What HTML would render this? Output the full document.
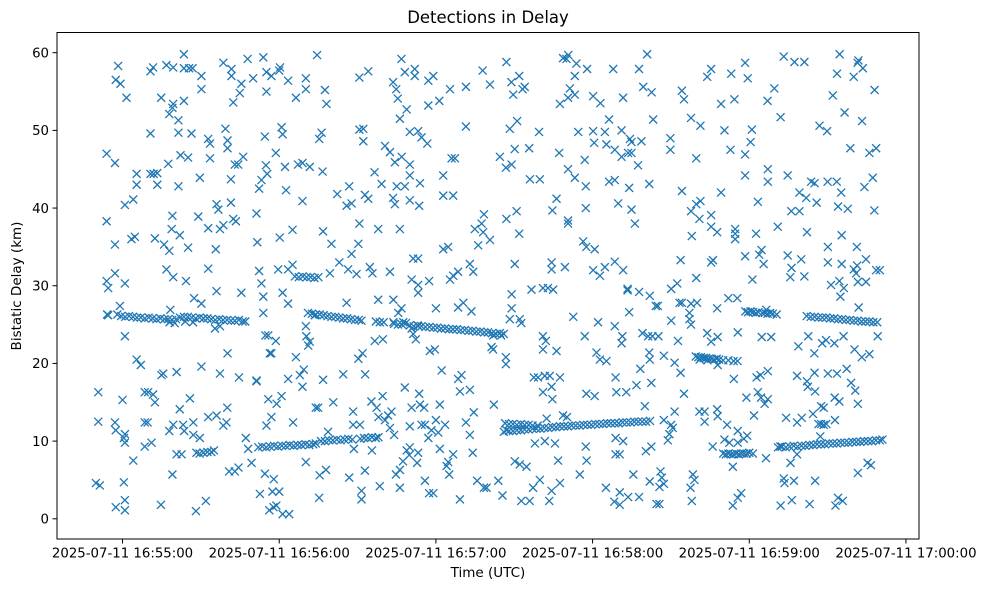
<!DOCTYPE html>
<html><head><meta charset="utf-8"><style>
html,body{margin:0;padding:0;background:#fff;}
svg{display:block;font-family:"DejaVu Sans","Liberation Sans",sans-serif;}
</style></head><body>
<svg id="chart" width="988" height="590" viewBox="0 0 988 590" xmlns="http://www.w3.org/2000/svg">
<rect x="0" y="0" width="988" height="590" fill="#fff"/>
<text x="488" y="23" text-anchor="middle" font-size="16.5" fill="#000">Detections in Delay</text>
<text x="488" y="577" text-anchor="middle" font-size="13.5" fill="#000">Time (UTC)</text>
<text transform="translate(21,286) rotate(-90)" text-anchor="middle" font-size="13.5" fill="#000">Bistatic Delay (km)</text>
<g id="marks"></g>
<g id="axes"></g>
</svg>
<script>
// time in seconds after 16:55:00 UTC, delay in km
const xTickValues = [0, 60, 120, 180, 240, 300];
const xTickLabels = ["2025-07-11 16:55:00","2025-07-11 16:56:00","2025-07-11 16:57:00","2025-07-11 16:58:00","2025-07-11 16:59:00","2025-07-11 17:00:00"];
const yTickValues = [0, 10, 20, 30, 40, 50, 60];
const xDomain = [-25.1, 305.0];
const yDomain = [-2.6, 62.6];

const trackPoints = [
[-2,26.3],[-0.5,26.1],[1,26.0],[2.5,26.1],[4,26.0],[5.5,25.9],[7,25.9],[8.5,25.8],[10,25.9],[11.5,25.8],[13,25.7],[14.5,25.8],[16,25.7],[17.5,25.7],[19,25.6],[20.5,25.7],[22,25.9],[23.5,26.0],[25,26.0],[26.5,25.9],[28,25.8],[29.5,25.9],[31,25.8],[32.5,25.8],[34,25.7],[35.5,25.6],[37,25.7],[38.5,25.6],[40,25.6],[41.5,25.5],[43,25.5],[44.5,25.6],[46,25.4],[47,25.4],[18,25.3],[20,25.2],[24,25.4],[27,25.3],
[52,9.2],[53.5,9.3],[55,9.2],[56.5,9.3],[58,9.4],[59.5,9.3],[61,9.4],[62.5,9.4],[64,9.5],[65.5,9.4],[67,9.5],[68.5,9.5],[70,9.6],[71.5,9.5],[73,9.6],[74,9.7],
[76,10.0],[77.5,10.0],[79,10.1],[80.5,10.1],[82,10.2],[83.5,10.1],[85,10.2],[86.5,10.3],[88,10.2],[91,10.3],[92.5,10.4],[94,10.4],[95.5,10.5],[97,10.4],[98,10.5],
[71,26.5],[72.5,26.4],[74,26.3],[75.5,26.3],[77,26.2],[78.5,26.1],[80,26.0],[81.5,26.0],[83,25.9],[84.5,25.8],[86,25.8],[87.5,25.7],[89,25.6],[90.5,25.6],[91.5,25.5],[97,25.4],[98.5,25.3],[100,25.3],
[104,25.1],[105.5,25.0],[107,25.0],[108.5,25.2],[110,24.9],[111.5,24.8],[113,24.9],[114.5,24.8],[116,24.7],[117.5,24.7],[119,24.6],[120.5,24.6],[122,24.5],[123.5,24.5],[125,24.4],[126.5,24.4],[128,24.4],[129.5,24.3],[131,24.3],[132.5,24.2],[134,24.2],[135.5,24.1],[137,24.1],[138.5,24.0],[140,24.0],[141.5,23.9],[143,23.8],[144.5,23.9],[146,23.8],[142,23.6],[145,23.6],
[146,11.2],[147,11.4],[148,11.3],[149.5,11.3],[151,11.4],[152.5,11.4],[154,11.5],[155.5,11.5],[157,11.6],[158.5,11.6],[160,11.6],[161.5,11.7],[163,11.7],[164.5,11.8],[166,11.8],[167.5,11.9],[169,11.9],[170.5,11.9],[172,12.0],[173.5,12.0],[175,12.0],[176.5,12.1],[178,12.1],[179.5,12.1],[181,12.2],[182.5,12.2],[184,12.2],[185.5,12.3],[187,12.3],[188.5,12.3],[190,12.3],[191.5,12.4],[193,12.4],[194.5,12.4],[196,12.5],[197.5,12.5],[199,12.5],[200.5,12.5],[202,12.6],[146.5,12.3],[148,12.2],[149.5,12.2],[151,12.1],[152.5,12.2],[154,12.1],[155.5,12.1],[157,12.0],[159,12.0],
[219.5,20.9],[220.5,20.8],[221.5,20.8],[222.5,20.7],[223.5,20.7],[224.5,20.6],[225.5,20.6],[226.5,20.5],[227.5,20.6],[228.5,20.5],[230,20.4],[232,20.4],[234,20.3],[235.5,20.3],[221,20.5],[224,20.4],
[230,8.4],[231,8.3],[232,8.4],[233,8.3],[234,8.3],[235,8.4],[236,8.3],[237,8.4],[238,8.4],[239,8.4],[240,8.5],[241.4,8.4],
[238.5,26.7],[239.5,26.6],[240.5,26.7],[241.5,26.6],[242.5,26.5],[243.5,26.6],[245,26.5],[246,26.5],[247,26.4],[248,26.5],[249,26.4],[250.5,26.3],[246.5,26.9],
[251,9.2],[252.5,9.3],[254,9.2],[255.5,9.3],[257,9.4],[258.5,9.3],[260,9.4],[261.5,9.4],[263,9.5],[264.5,9.5],[266,9.6],[267.5,9.6],[269,9.6],[270.5,9.7],[272,9.7],[273.5,9.7],[275,9.8],[276.5,9.8],[278,9.8],[279.5,9.9],[281,9.9],[282.5,9.9],[284,10.0],[285.5,10.0],[287,10.0],[288.5,10.1],[290,10.1],[291,10.2],
[262,26.1],[263.5,26.0],[265,26.0],[266.5,25.9],[268,25.9],[269.5,25.9],[271,25.8],[272.5,25.8],[274,25.7],[275.5,25.7],[277,25.6],[278.5,25.6],[280,25.5],[281.5,25.5],[283,25.4],[284.5,25.4],[286,25.4],[287.5,25.3],[289,25.3],
[66,31.2],[67.5,31.1],[69,31.2],[70.5,31.1],[72,31.1],[73.5,31.0],[75,31.1],
[28.3,8.5],[29.5,8.4],[31,8.5],[32.5,8.6],[34,8.6],[35,8.8],
[266.5,12.2],[267.5,12.2],[268.5,12.1],[269.5,12.2]
];

const scatterPoints = [
[-9.3,16.3],[-9.3,12.5],[-10.2,4.6],[-8.7,4.3],[-6.1,47.0],[-2.9,45.8],[-6.1,38.3],[-2.9,35.3],[-6.1,30.6],[-5.5,29.7],[-2.9,31.6],[-5.9,26.3],[-5.5,26.2],
[-2.6,56.5],[-1.7,58.3],[-0.8,56.0],[1.5,54.2],[0.9,40.4],[4.1,41.1],[5.4,43.0],[5.4,44.4],[0.9,30.3],[-1,27.4],[0.9,23.5],
[-2.9,12.4],[-2.6,11.4],[0,15.3],[0.9,10.9],[0.9,9.8],[0.5,10.4],[4.1,7.5],[0.5,4.7],[-2.6,1.5],[0.9,2.4],[0.9,1.1],[3.4,36.0],[4.7,36.3],[5.4,20.5],[7.0,19.8],
[8.5,16.3],[9.8,16.3],[11.7,16.0],[12.4,15.0],[8.5,12.4],[9.6,12.4],[8.5,9.3],[11.1,9.8],[10.7,49.6],[10.7,44.4],[11.9,44.4],[13.3,44.5],[13.3,43.0],
[10.7,57.6],[11.7,58.1],[14.8,54.2],[16.8,58.4],[19.4,58.1],[12.4,36.1],[15.9,35.3],[17.9,34.5],[17.5,45.7],[17.9,52.1],[19.1,52.9],[19.4,53.4],[21.4,51.3],[21.4,49.7],
[21.4,42.8],[19.1,39.0],[18.8,37.3],[21.9,36.5],[16.8,32.1],[19.4,31.1],[18.3,26.9],[14.9,18.5],[15.6,18.7],[20.7,18.9],[17.9,11.3],[19.4,12.1],[21.9,14.1],[19.1,5.7],[20.7,8.3],[22.6,8.3],[14.7,1.8],
[23.5,59.8],[23.5,58.0],[23.5,53.8],[25.5,58.0],[26.8,58.0],[30.2,57.0],[30.2,55.3],[22.2,46.8],[25.1,46.5],[26.4,49.6],[25.1,34.9],[24.3,30.6],[29.0,38.9],[32.8,37.4],[29.6,43.9],
[27.4,28.4],[30.2,27.7],[23.2,12.1],[23.6,11.3],[25.8,15.5],[27.1,12.4],[27.1,10.8],[29.6,10.4],[28.1,1.0],[31.9,2.3],[32.8,48.9],[33.5,48.3],[33.5,46.4],[32.8,32.2],[30.2,19.6],[32.8,13.1],
[35.7,34.7],[36.0,40.5],[36.7,39.8],[37.3,37.3],[38.6,37.8],[36,29.3],[35.4,24.5],[37.3,24.8],[40.2,21.3],[37.3,18.7],[36.0,13.3],[38.6,12.0],[39.8,12.4],[40.1,14.3],[40.8,6.1],[43.0,6.1],[44.4,6.6],
[38.6,58.7],[41.7,57.9],[41.7,57.0],[42.4,53.6],[44.9,54.8],[45.5,56.0],[47.9,59.2],[50.0,56.7],[39.4,50.2],[40.2,48.7],[40.2,47.7],[43.0,45.6],[44.3,45.6],[46.2,46.6],[41.5,43.7],[41.5,40.7],[42.4,38.6],[43.4,38.3],
[45.5,29.1],[44.6,18.2],[47.2,10.4],[48.1,9.0],[49.4,7.2],[51.3,17.7],
[53.9,59.4],[55.1,57.5],[57.0,57.0],[55.1,55.0],[60,57.7],[60.3,58.1],[63.4,56.4],[66.4,54.2],[70.2,56.7],[70.2,55.3],[74.5,59.7],[77.5,55.2],[78.1,53.4],
[54.5,49.2],[54.9,45.5],[55.4,44.4],[53.2,43.6],[52.3,42.5],[51.3,39.3],[51.6,35.6],[58.7,47.1],[60.9,50.4],[61.3,49.5],[62.2,45.3],[62.6,42.3],
[60.2,36.2],[65.1,37.2],[68.9,40.9],[67.2,45.6],[68.9,45.8],[71.7,45.3],[75.3,48.9],[76.2,49.7],[76.6,44.7],[76.8,37.0],
[52.3,31.9],[53.2,30.3],[53.9,28.6],[53.9,26.5],[59.6,32.1],[61.3,29.1],[63.4,27.7],[63.4,32.1],[65.1,32.7],
[54.7,23.6],[55.8,23.6],[56.4,21.3],[57.0,21.3],[58.7,22.9],[66.4,20.8],[67.9,18.5],[68.9,17.0],[69.4,19.2],[70.4,23.5],[71.1,22.3],[71.7,22.8],[70.2,24.8],[73.6,26.2],[76.8,17.9],
[51.3,17.8],[55.8,15.4],[59.0,14.8],[60.9,15.8],[55.1,12.0],[57.0,13.1],[63.4,18.0],[65.3,12.4],[74,14.3],[70.2,7.3],
[54.5,5.8],[57.9,5.1],[52.6,3.2],[56.2,1.1],[57.8,1.5],[57.4,3.5],[60,3.5],[61.3,0.6],[63.8,0.6],[58.9,1.7],[75.3,2.7],[75.5,5.6],[77.9,6.3],[74.9,14.3],[78.7,11.2],
[90.7,56.8],[94.1,57.6],[90.7,50.1],[92.2,50.2],[92.2,48.6],[82.2,41.8],[86.8,42.8],[85.8,40.3],[87.7,40.6],[92.8,41.7],[94.1,41.2],[90.7,38.0],[97.9,37.3],
[80.0,35.4],[90.3,35.4],[87.7,34.1],[83,33.0],[86.4,32.1],[89.6,31.5],[79.4,31.6],[94.7,32.4],[95.7,31.6],[85.8,27.8],
[84.5,18.6],[92.9,18.6],[90.3,20.6],[91.9,21.3],[80.7,15.0],[88.3,13.8],[88.3,12.1],[90.9,12.1],[88.6,9.0],[95.5,8.8],[86.8,5.3],[92.8,6.2],[91.5,3.6],[91.5,2.5],[98.5,4.2],
[95.3,15.1],[97.3,14.3],[99.6,15.8],[98.0,13.1],[100.5,12.7],[101.7,13.3],[103.0,13.8],[102.4,11.7],[104,10.8],
[108.1,16.9],[110.7,14.3],[110.0,11.9],[113.6,16.1],[113.9,14.7],[114.5,12.1],[115.8,12.1],[115.5,14.3],[117.1,10.4],[118.3,11.4],[120,12.7],[121.5,14.7],[120.9,11.1],
[108.8,8.8],[110,9.2],[109.8,8.2],[107.4,7.4],[106.2,6.3],[104.7,5.7],[106.2,4.0],[113.2,8.5],[112.8,7.2],[115.8,4.9],[117.4,3.3],[119,3.3],
[121.5,9.0],[124.1,6.8],[124.7,7.3],[125.1,5.7],[126.6,8.3],[129.2,2.5],[123.5,12.1],[128.5,18.0],[129.8,18.5],[129.2,16.4],[133,16.6],[131.5,12.4],[134.5,13.7],[133,10.8],[134.1,8.5],
[135.8,4.9],[138.4,4.0],[139.4,4.0],[143.9,4.9],[145.5,3.0],[142.2,14.7],[122.2,19.1],[117.7,21.6],[119.6,21.8],
[97.9,28.2],[103.7,28.2],[106.8,27.1],[105.6,26.5],[103.7,25.3],[107.5,25.3],[110.7,24.5],[112.3,23.1],[111.3,23.8],[113.2,24.8],[120.0,27.1],[117.4,30.6],[96.6,22.9],[99.7,23.1],
[128.5,27.2],[130.5,27.8],[133.6,26.7],[141.3,22.1],[141.9,21.8],[146.8,20.8],[146.8,19.9],[149,28.9],[149,27.1],[148.3,25.7],[152.1,25.7],[152.7,25.2],
[96.5,44.6],[99.2,43.1],[100.5,48.0],[102.4,47.2],[104.3,45.9],[106.9,46.6],[110.0,45.6],[110.0,44.2],[105,42.8],[108.1,42.8],[113.9,43.2],[103.6,41.3],[104.3,40.5],[110,41.0],[113.6,40.3],[106.2,37.3],
[103.6,56.2],[104.8,55.3],[105.4,54.1],[106.8,59.2],[108.1,57.5],[111.9,57.9],[111.9,57.0],[108.8,52.7],[106.2,51.5],[110.0,49.8],[113.2,49.9],[114.5,49.1],[116.7,48.3],[117.1,56.4],[119.0,57.0],[117.1,53.2],[121.3,53.8],
[122.8,44.2],[122.8,41.6],[126.6,41.6],[126.0,46.4],[127.3,46.4],[125.4,55.3],[131.5,55.6],[131.5,50.5],
[134.9,37.3],[137.5,38.0],[138.1,36.9],[140.7,35.9],[136.2,35.2],[138.4,39.2],[122.8,34.7],[124.7,35.0],[111.3,33.5],[113.2,33.5],[110.7,30.8],[113.2,30.1],[113.2,29.1],[102.4,31.8],
[125.4,30.8],[126.6,31.3],[128.5,31.8],[133,32.8],[134.3,31.8],
[137.9,57.7],[140.7,55.9],[147,58.8],[148.9,56.2],[149.6,54.6],[151.9,57.0],[153.2,55.3],[154,55.6],
[144.5,46.6],[146.8,45.2],[149,45.6],[150.2,47.6],[148.3,50.2],[151.1,51.2],[155.7,47.7],[159.5,49.8],[147,38.6],[150.9,39.6],[151.9,36.7],
[150.2,32.8],[156.6,29.5],[161,29.7],[162.9,29.7],[164.9,29.5],[164.3,33.0],[164.3,32.1],[169.4,32.4],
[156.0,43.7],[159.8,43.7],[164.6,39.7],[166.2,41.2],[167.5,53.4],[170.6,54.2],[167.2,47.1],[170.6,38],[170.6,38.4],
[168.7,59.3],[170.7,59.7],[170,59.2],[173.8,58.6],[173.2,57.0],[171.3,55.4],[173.2,54.6],[177.9,57.9],
[170.6,45.0],[173.2,43.9],[174.5,49.8],[177.0,46.2],[177.4,42.8],[177.4,40.0],
[180.2,54.4],[183.0,53.5],[180.2,49.9],[180.6,48.4],[184.7,49.8],[186.3,51.4],[185.3,48.2],[187.9,57.9],[191.7,54.2],[188.5,47.5],[191.1,46.6],[191.1,50.0],[194.3,48.9],[194.9,48.5],[194.9,47.1],[193.6,47.1],[198.7,48.6],[197.4,45.5],[197.8,57.9],[199.4,55.6],[202.6,54.9],[203.2,51.4],[200.9,59.8],
[186.3,43.4],[188.5,43.6],[189.8,40.6],[194,42.6],[194.9,39.8],[196.2,38.0],[201.7,43.1],
[176.4,35.7],[177.6,35.0],[180.8,34.7],[180.2,32.0],[182.8,31.3],[184.7,32.4],[188.5,33.1],[191.7,32.0],
[193.4,29.4],[193.4,29.6],[197.8,29.2],[201.9,28.7],[204.2,27.4],
[172.6,26.0],[182.1,25.3],[188.5,24.8],[191.4,23.5],[191.1,22.6],[194.0,26.6],[199.1,23.9],[201.3,23.5],[202.9,23.5],
[161,23.5],[161,21.8],[166.2,21.6],[162.1,22.9],[177,23.5],
[181.5,21.4],[182.8,20.5],[185.3,20.3],[201.7,21.4],[201.9,20.5],[198.3,19.3],[202.5,17.5],
[157.5,18.2],[159.1,18.2],[161.7,18.4],[163.6,18.4],[167.5,18.2],[161.0,16.3],[164.3,17.0],[164.6,15.4],[177.6,16.1],[180.8,15.8],[188.8,18.2],[189.1,16.3],[192.9,16.3],[196.8,17.2],
[168.7,13.3],[170.2,13.1],[162.4,12.9],[200,14.5],
[157.9,9.7],[161.7,10.0],[165.6,9.7],[177.4,9.3],[188.8,10.4],[191.7,10.0],[188.8,8.3],[190.4,8.3],[200.4,8.7],[202.5,9.3],
[150.2,7.4],[152.1,7.0],[154.7,6.7],[166.8,7.5],[175.1,5.7],[177.7,7.5],[195.6,5.7],[201.9,4.8],
[152.7,2.3],[155.9,2.3],[157.2,4.0],[159.8,5.0],[163.4,2.3],[164.3,3.6],[167.5,4.6],[185.1,4.0],[188.3,2.2],[190.4,3.4],[190.4,1.8],[193.6,2.8],[197.8,2.8],[204.5,1.9],
[214.2,55.1],[215,54.0],[217.7,51.6],[221.3,50.6],[223.9,56.9],[225.4,57.9],[229.2,53.4],[233.1,57.3],[234.3,54.0],[238.4,58.7],[239.4,56.7],[249.6,55.4],[247,53.8],[253.2,59.5],[257.3,58.8],[261.1,58.8],[252.0,51.7],[272.0,54.5],[273.6,57.3],[274.6,59.8],[276.5,52.3],[280.0,56.9],[281.5,58.7],[281.8,59.0],[283.5,58.0],[288.0,55.2],[283.2,51.2],
[209.8,49.0],[209.8,47.5],[219.7,46.4],[230.5,50.0],[232.8,47.5],[238.4,46.9],[240.5,48.5],[241.0,50.1],[266.9,50.6],[269.8,49.9],[278.7,47.7],[286.0,47.1],[288.6,47.7],
[214.2,42.2],[229.2,42.0],[238.4,44.2],[247.1,45.0],[247.1,43.4],[254.7,44.2],[259.2,42.0],[263.7,43.4],[265.0,43.2],[261.8,41.3],[265.8,40.7],[270,43.4],[273.5,43.4],[275.2,42.0],[274.0,40.2],[277.7,39.9],[284.1,42.7],[287.3,43.9],[287.9,39.7],
[217.7,39.6],[219.7,40.5],[221.3,40.9],[220.9,38.6],[225.4,39.1],[225.4,37.6],[227.7,36.9],[218.0,36.4],[234.6,37.3],[234.6,36.7],[234.6,36.0],[242.6,36.7],[243.3,40.8],[250.9,37.6],[256.1,39.6],[259.2,39.6],[262.1,36.9],[275.4,36.5],[270.1,35.0],[281.2,35.0],
[213.7,33.3],[225.4,33.0],[226.1,33.3],[238.4,33.8],[243.8,34.0],[244.7,34.6],[245.5,32.8],[254.7,33.9],[259.9,33.4],[256.2,32.3],[255.7,31.1],[261.1,31.2],[270.1,33.0],[275.4,32.8],[280,32.1],[281.3,32.6],[284.7,33.4],[288.6,32.0],[290,32.0],[271.3,30.1],[274.5,30.6],[276.2,29.7],[274.9,28.6],[280.9,31.6],[284.7,30.5],[281.6,30.5],[219.7,31.0],[241.2,30.8],[210.1,29.6],[212.4,30.3],
[213.3,27.8],[214.2,27.8],[217.7,27.7],[220,27.8],[232.0,28.4],[235.4,28.4],[227.7,27.1],[217.1,26.5],[217.1,25.7],[217.7,25.0],[210.1,25.5],[205,27.4],[205.2,23.5],[212.7,22.9],[223.9,23.9],[225.4,22.8],[227.9,23.4],[235.6,24.0],[244.8,23.4],[248.4,23.4],[281.9,27.2],[258.8,22.2],[262.6,23.5],[264.9,21.3],[267.9,22.6],[269.4,23.0],[272.6,22.6],[276.1,23.5],[280.3,21.8],[283.1,20.8],[286.0,21.2],[289.2,23.5],
[207.3,21.0],[211.4,20.1],[213.7,18.8],[227.9,19.8],[234.1,18.0],[238.9,15.6],[242.8,18.2],[244.3,18.5],[247.1,19.0],[243.3,16.3],[244.5,15.6],[245.9,14.8],[247.1,15.4],[258.3,18.4],[262.1,17.7],[262.4,17.0],[265.0,18.8],[265.2,16.4],[270.1,18.7],[273.6,18.7],[277.3,19.3],[279.0,17.5],[280.6,16.5],[281.6,14.8],[272.7,15.6],[274.5,15.1],[215,16.1],
[211.4,13.8],[210.1,12.1],[210.7,11.7],[207.3,12.7],[209.4,10.9],[208.8,10.1],[220.9,13.8],[222.9,13.8],[222.9,12.5],[227.7,14.1],[227.9,13.2],[231.5,12.1],[235.6,11.3],[230.5,10.2],[232.4,9.8],[235.6,9.8],[237.9,10.3],[239.2,10.7],[226.0,9.3],[241.8,13.3],[254.1,13.0],[258.3,12.4],[260.1,13.0],[264.4,13.5],[267.5,14.5],[268.5,14.3],[272.8,12.7],[267.2,10.6],[251.9,9.3],[233.7,6.7],[246.4,7.8],
[206,6.1],[206.5,5.3],[207.3,4.5],[205.6,4.1],[218.4,5.7],[219.0,5.0],[217.5,4.0],[218.0,2.3],[205.6,1.9],[233.7,1.7],[235.6,2.7],[236.9,3.3],[252.0,1.7],[256.3,2.4],[253.2,5.2],[253.5,4.6],[257.1,4.9],[263.1,1.9],[265.2,4.9],[255.8,7.2],[258.3,8.3],[274.0,2.7],[273.0,1.7],[275.8,2.3],[281.6,5.9],[285.3,7.2],[286.6,6.9]
];

const PL = 57, PR = 919, PT = 32.5, PB = 539;
function xScale(t){ return PL + (t - xDomain[0]) / (xDomain[1] - xDomain[0]) * (PR - PL); }
function yScale(d){ return PB - (d - yDomain[0]) / (yDomain[1] - yDomain[0]) * (PB - PT); }

const NS = "http://www.w3.org/2000/svg";
const marks = document.getElementById('marks');
const axes = document.getElementById('axes');
const COLOR = "#1f77b4";
const R = 4;

function drawMarker(p, i, kind){
  const cx = xScale(p[0]), cy = yScale(p[1]);
  const path = document.createElementNS(NS, 'path');
  path.setAttribute('d', `M${(cx-R).toFixed(2)},${(cy-R).toFixed(2)}L${(cx+R).toFixed(2)},${(cy+R).toFixed(2)}M${(cx-R).toFixed(2)},${(cy+R).toFixed(2)}L${(cx+R).toFixed(2)},${(cy-R).toFixed(2)}`);
  path.setAttribute('stroke', COLOR);
  path.setAttribute('stroke-width', '1.3');
  path.setAttribute('fill', 'none');
  
  
  marks.appendChild(path);
}
trackPoints.forEach((p,i)=>drawMarker(p,i,'track-detection-marker'));
scatterPoints.forEach((p,i)=>drawMarker(p,i,'detection-marker'));

const frame = document.createElementNS(NS, 'rect');
frame.setAttribute('x', PL); frame.setAttribute('y', PT);
frame.setAttribute('width', PR-PL); frame.setAttribute('height', PB-PT);
frame.setAttribute('fill', 'none'); frame.setAttribute('stroke', '#000'); frame.setAttribute('stroke-width', '1');


axes.appendChild(frame);

xTickValues.forEach((v,i)=>{
  const x = xScale(v);
  const tk = document.createElementNS(NS, 'line');
  tk.setAttribute('x1', x); tk.setAttribute('x2', x); tk.setAttribute('y1', PB); tk.setAttribute('y2', PB+4.5);
  tk.setAttribute('stroke', '#000'); tk.setAttribute('stroke-width', '1');
  
  
  axes.appendChild(tk);
  const tx = document.createElementNS(NS, 'text');
  tx.setAttribute('x', x); tx.setAttribute('y', PB+18.5);
  tx.setAttribute('text-anchor', 'middle'); tx.setAttribute('font-size', '13.3');
  tx.textContent = xTickLabels[i];
  
  
  axes.appendChild(tx);
});
yTickValues.forEach((v)=>{
  const y = yScale(v);
  const tk = document.createElementNS(NS, 'line');
  tk.setAttribute('x1', PL-4.5); tk.setAttribute('x2', PL); tk.setAttribute('y1', y); tk.setAttribute('y2', y);
  tk.setAttribute('stroke', '#000'); tk.setAttribute('stroke-width', '1');
  
  
  axes.appendChild(tk);
  const tx = document.createElementNS(NS, 'text');
  tx.setAttribute('x', PL-8); tx.setAttribute('y', y+4.7);
  tx.setAttribute('text-anchor', 'end'); tx.setAttribute('font-size', '13.3');
  tx.textContent = String(v);
  
  
  axes.appendChild(tx);
});
</script>
</body></html>
